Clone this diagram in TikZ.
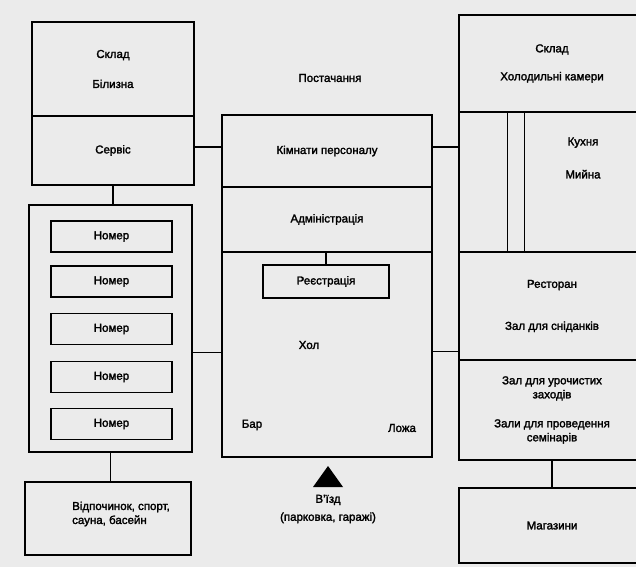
\documentclass[tikz,border=0pt]{standalone}
\usepackage{fontspec}
\setmainfont{Liberation Sans}[FakeBold=2]
\begin{document}
\begin{tikzpicture}[x=1pt,y=-1pt,
  every node/.style={font=\fontsize{11.5}{14}\selectfont},
  room/.style={draw,line width=1.4pt,align=center,inner sep=0pt},
  nomer/.style={room,minimum width=121,minimum height=31},
  lbl/.style={align=center,inner sep=0pt},
  conn/.style={line width=1.4pt}]
\useasboundingbox (0,0) rectangle (636,567);
\fill[black!8] (0,0) rectangle (636,567);
\clip (0,0) rectangle (636,567);

\node[room,minimum width=162,minimum height=94] (sklad) at (113,69) {Склад\\[16pt]Білизна};
\node[room,minimum width=162,minimum height=69] (servis) at (113,150.5) {Сервіс};
\node[room,minimum width=163,minimum height=247] (rooms) at (110.5,328.5) {};
\foreach \i/\y in {1/236.5,2/281.5,3/329,4/377,5/424}
  \node[nomer] (nomer\i) at (111.5,\y) {Номер};
\node[room,minimum width=166,minimum height=73] (rest) at (108,518.5) {};
\node[lbl,align=left,anchor=west] (restlbl) at (72,514) {Відпочинок, спорт,\\сауна, басейн};

\node[lbl] (post) at (330,78) {Постачання};
\node[room,minimum width=210,minimum height=72] (staff) at (327,151) {Кімнати персоналу};
\node[room,minimum width=210,minimum height=65] (admin) at (327,219.5) {Адміністрація};
\node[room,minimum width=210,minimum height=205] (hall) at (327,354.5) {};
\node[room,minimum width=126,minimum height=33] (reg) at (326,281.5) {Реєстрація};
\node[lbl] (hol) at (309,345) {Хол};
\node[lbl] (bar) at (252,425) {Бар};
\node[lbl] (lozha) at (402,428) {Ложа};
\fill (313,487) -- (328,466) -- (343,487) -- cycle;
\node[lbl] (entry) at (328,509) {В’їзд\\[4pt](парковка, гаражі)};

\node[room,minimum width=186,minimum height=97] (skladR) at (552,63.5) {Склад\\[14pt]Холодильні камери};
\node[room,minimum width=186,minimum height=140] (kitchen) at (552,182) {};
\draw[conn] ([xshift=49]kitchen.north west) -- ([xshift=49]kitchen.south west);
\draw[conn] ([xshift=66]kitchen.north west) -- ([xshift=66]kitchen.south west);
\node[lbl] (kuhnya) at (583,158) {Кухня\\[19pt]Мийна};
\node[room,minimum width=186,minimum height=108] (restoran) at (552,306) {Ресторан\\[28pt]Зал для сніданків};
\node[room,minimum width=186,minimum height=100] (zal) at (552,410) {Зал для урочистих\\заходів\\[15pt]Зали для проведення\\семінарів};
\node[room,minimum width=186,minimum height=75] (shops) at (552,525.5) {Магазини};

\draw[conn] ([yshift=4]servis.east |- staff.west) -- ([yshift=4]staff.west);
\draw[conn] ([yshift=4]staff.east) -- ([yshift=4]staff.east -| kitchen.west);
\draw[conn] (servis.south) -- (servis.south |- rooms.north);
\draw[conn] (rooms.south) -- (rooms.south |- rest.north);
\draw[conn] ([yshift=2]hall.west) -- ([yshift=2]hall.west -| rooms.east);
\draw[conn] ([yshift=3]hall.east) -- ([yshift=3]hall.east -| zal.west);
\draw[conn] (reg.north) -- (reg.north |- admin.south);
\draw[conn] (zal.south) -- (zal.south |- shops.north);
\end{tikzpicture}
\end{document}
